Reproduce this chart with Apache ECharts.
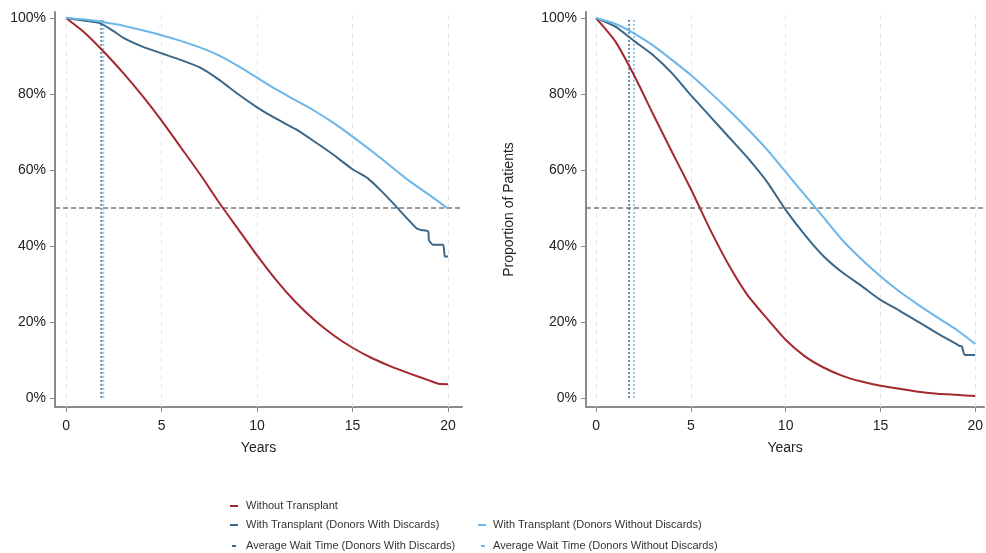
<!DOCTYPE html>
<html>
<head>
<meta charset="utf-8">
<script src="https://cdn.jsdelivr.net/npm/echarts@6/dist/echarts.min.js"></script>
<style>html,body{margin:0;padding:0;background:#fff}#c{width:986px;height:553px}</style>
</head>
<body>
<div id="c"></div>
<script>
// ---- data (years, percent) ----
const xTicks = [0, 5, 10, 15, 20];
const yTicks = [0, 20, 40, 60, 80, 100];
const seriesNames = ['Without Transplant','With Transplant (Donors With Discards)','With Transplant (Donors Without Discards)','Average Wait Time (Donors With Discards)','Average Wait Time (Donors Without Discards)'];

const leftWithout = [[0,100],[1,96],[2,91],[3,85.5],[4,79.5],[5,73],[6,66],[7,59],[8,51.5],[9,44.5],[10,37.5],[11,31],[12,25.3],[13,20.5],[14,16.5],[15,13.2],[16,10.5],[17,8.3],[18,6.4],[19,4.6],[19.5,3.7],[20,3.6]];
const leftWithDisc = [[0,100],[1,99.3],[1.8,98.6],[2.5,96.5],[3,94.8],[4,92.5],[5,90.7],[6,89],[7,87],[8,83.8],[9,80],[10,76.5],[11,73.5],[12,70.8],[13,67.5],[14,64],[15,60.2],[15.8,57.8],[16.5,54.5],[17.3,50.3],[17.9,47],[18.36,44.6],[18.6,44.2],[18.96,43.8],[19.0,41.5],[19.22,40.3],[19.74,40.3],[19.83,37.2],[20,37.2]];
const leftWithoutDisc = [[0,100],[1,99.6],[2,98.9],[3,98],[4,96.8],[5,95.5],[6,94],[7,92.3],[8,90.2],[9,87.4],[10,84.3],[11,81.2],[12,78.4],[13,75.6],[14,72.4],[15,68.8],[16,65],[17,61],[18,57],[19,53.5],[20,49.8]];
const leftWaitWith = [1.84];
const leftWaitWithout = [1.95];

const rightWithout = [[0,100],[1,94],[2,85],[3,74.8],[4,64.8],[5,55],[6,44.5],[7,35],[8,27],[9,21],[10,15.3],[11,11],[12,8],[13,5.8],[14,4.3],[15,3.2],[16,2.4],[17,1.6],[18,1.1],[19,0.8],[20,0.5]];
const rightWithDisc = [[0,100],[1,97.8],[2,94],[3,90.3],[4,85.5],[5,79.7],[6,74.2],[7,68.7],[8,63.2],[9,57],[10,49.5],[11,43],[12,37.3],[13,33],[14,29.5],[15,25.8],[16,23],[17,20],[18,17],[19,14.2],[19.16,13.7],[19.3,13.5],[19.45,11.3],[20,11.3]];
const rightWithoutDisc = [[0,100],[1,98.5],[2,96],[3,92.8],[4,89],[5,85],[6,80.5],[7,75.8],[8,70.8],[9,65.5],[10,59.5],[11,53.5],[12,47.5],[13,41.5],[14,36.5],[15,32],[16,28],[17,24.5],[18,21.2],[19,18],[20,14.2]];
const rightWaitWith = [1.74];
const rightWaitWithout = [2.0];

const refLine = 50;

// ---- styles ----
const RED = '#a3282f', DARK = '#3b6788', LIGHT = '#6cb6ea';
const AX = '#8a8a8a';
const FONT = 'Liberation Sans';

function xAxisCfg(idx, min, max) {
  return {
    gridIndex: idx, type: 'value', min: min, max: max,
    name: 'Years', nameLocation: 'middle', nameGap: 34,
    nameTextStyle: {fontFamily: FONT, fontSize: 14, color: '#222'},
    axisLine: {show: true, onZero: false, lineStyle: {color: AX, width: 2}},
    axisTick: {show: true, customValues: xTicks, length: 5, lineStyle: {color: AX, width: 1}},
    axisLabel: {customValues: xTicks, fontFamily: FONT, fontSize: 14, color: '#222', margin: 12},
    splitLine: {show: false}
  };
}
function yAxisCfg(idx, name) {
  return {
    gridIndex: idx, type: 'value', min: -2.4, max: 101.6,
    name: name, nameLocation: 'middle', nameGap: 70,
    nameTextStyle: {fontFamily: FONT, fontSize: 14, color: '#222'},
    axisLine: {show: true, onZero: false, lineStyle: {color: AX, width: 2}},
    axisTick: {show: true, customValues: yTicks, length: 5, lineStyle: {color: AX, width: 1}},
    axisLabel: {customValues: yTicks, formatter: '{value}%', fontFamily: FONT, fontSize: 14, color: '#222', margin: 9},
    splitLine: {show: false}
  };
}
function curve(name, data, color, idx) {
  return {name: name, type: 'line', data: data, xAxisIndex: idx, yAxisIndex: idx,
    showSymbol: false, symbol: 'none', z: 4, color: color, smooth: 0.2,
    lineStyle: {color: color, width: 2}, silent: true, animation: false};
}
function wait(name, x, color, idx) {
  return {name: name, type: 'line', data: [[x[0], 0], [x[0], 100]], xAxisIndex: idx, yAxisIndex: idx,
    showSymbol: false, symbol: 'none', z: 3, color: color,
    lineStyle: {color: color, width: 2, type: [2, 2], opacity: 0.75}, silent: true, animation: false};
}
function guides(idx) {
  const grid = xTicks.map(v => ({xAxis: v, lineStyle: {color: '#e6e6e6', type: [5, 4], width: 1}}));
  return {type: 'line', data: [], xAxisIndex: idx, yAxisIndex: idx, z: 1, silent: true, animation: false,
    markLine: {z: 1, silent: true, symbol: 'none', label: {show: false}, animation: false,
      lineStyle: {color: '#e6e6e6', type: [5, 4], width: 1},
      data: grid.concat([{yAxis: refLine, lineStyle: {color: '#7a7a7a', type: [5, 3], width: 1.5}}])}};
}
function legendCfg(name, left, top, w, pad) {
  return {data: [name], left: left, top: top, padding: 0, icon: 'rect', itemWidth: w, itemHeight: 2,
    selectedMode: false,
    textStyle: {fontFamily: FONT, fontSize: 11, color: '#333', lineHeight: 12, padding: [0, 0, 0, pad]}};
}

const option = {
  backgroundColor: '#fff',
  animation: false,
  grid: [
    {left: 55, right: 524, top: 12, bottom: 146},
    {left: 586, right: 0, top: 12, bottom: 146}
  ],
  xAxis: [xAxisCfg(0, -0.58, 20.73), xAxisCfg(1, -0.53, 20.47)],
  yAxis: [yAxisCfg(0, ''), yAxisCfg(1, 'Proportion of Patients')],
  legend: [
    legendCfg(seriesNames[0], 230, 500, 8, 3),
    legendCfg(seriesNames[1], 230, 519, 8, 3),
    legendCfg(seriesNames[2], 478, 519, 8, 2),
    legendCfg(seriesNames[3], 232, 540, 4, 5),
    legendCfg(seriesNames[4], 481, 540, 4, 3)
  ],
  series: [
    guides(0), guides(1),
    wait(seriesNames[3], leftWaitWith, DARK, 0),
    wait(seriesNames[4], leftWaitWithout, LIGHT, 0),
    wait(seriesNames[3], rightWaitWith, DARK, 1),
    wait(seriesNames[4], rightWaitWithout, LIGHT, 1),
    curve(seriesNames[0], leftWithout, RED, 0),
    curve(seriesNames[1], leftWithDisc, DARK, 0),
    curve(seriesNames[2], leftWithoutDisc, LIGHT, 0),
    curve(seriesNames[0], rightWithout, RED, 1),
    curve(seriesNames[1], rightWithDisc, DARK, 1),
    curve(seriesNames[2], rightWithoutDisc, LIGHT, 1)
  ]
};
const chart = echarts.init(document.getElementById('c'), null, {renderer: 'canvas'});
chart.setOption(option);
</script>
</body>
</html>
